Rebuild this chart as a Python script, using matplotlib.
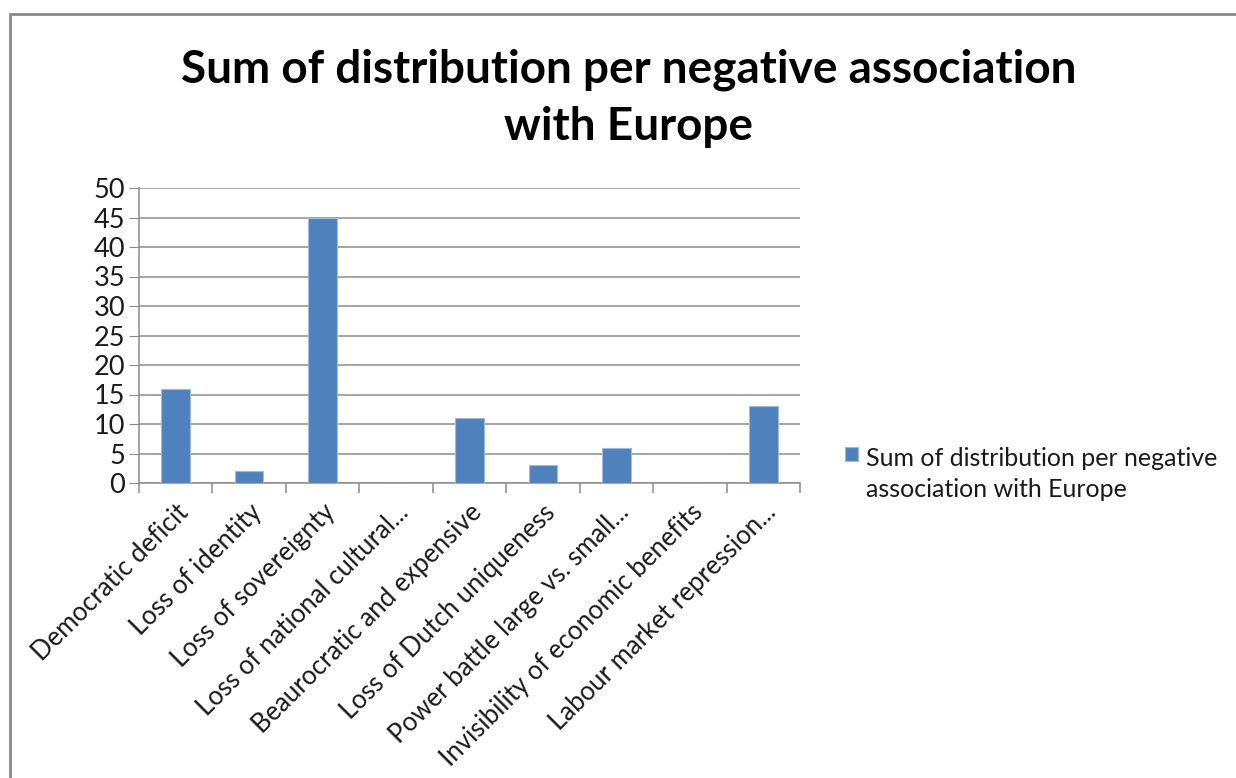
import matplotlib.pyplot as plt
from matplotlib.patches import Rectangle
import numpy as np

categories = [
    'Democratic deficit',
    'Loss of identity',
    'Loss of sovereignty',
    'Loss of national cultural...',
    'Beaurocratic and expensive',
    'Loss of Dutch uniqueness',
    'Power battle large vs. small...',
    'Invisibility of economic benefits',
    'Labour market repression...',
]
values = [16, 2, 45, 0, 11, 3, 6, 0, 13]
series_name = 'Sum of distribution per negative\nassociation with Europe'
title = 'Sum of distribution per negative association\nwith Europe'

plt.rcParams['font.family'] = ['Lato', 'DejaVu Sans']

W, H = 1236, 778
fig = plt.figure(figsize=(W / 100, H / 100), dpi=100)

# chart frame, left and top edges visible
fig.patches.append(Rectangle((10 / W, -0.1), 1.2, 1 - 14 / H + 0.1,
                             transform=fig.transFigure, fill=False,
                             edgecolor='#8a8a8a', linewidth=2))

ax = fig.add_axes([139 / W, 1 - 483 / H, (800 - 139) / W, (483 - 188) / H])
x = np.arange(len(categories))
bars = ax.bar(x, values, width=0.39, color='#4f81bd', edgecolor='#9fbbdc',
              linewidth=0.8, zorder=3, label=series_name)

ax.set_xlim(-0.5, len(categories) - 0.5)
ax.set_ylim(0, 50)
ax.set_yticks(range(0, 51, 5))
ax.yaxis.grid(True, color='#8c8c8c', linewidth=1.1)
ax.set_axisbelow(True)

for s in ['top', 'right']:
    ax.spines[s].set_visible(False)
for s in ['left', 'bottom']:
    ax.spines[s].set_color('#8c8c8c')
    ax.spines[s].set_linewidth(1.1)

ax.tick_params(axis='y', length=7, color='#8c8c8c', labelsize=19.5, pad=3,
               labelcolor='#1a1a1a')
ax.set_xticks(x)
ax.set_xticklabels(categories, rotation=45, ha='right', rotation_mode='anchor',
                   fontsize=18.5, color='#1a1a1a')
ax.tick_params(axis='x', which='major', length=0, pad=12)
ax.set_xticks(np.arange(-0.5, len(categories)), minor=True)
ax.tick_params(axis='x', which='minor', length=7, color='#8c8c8c', width=1.1)

fig.text(629 / W, 1 - 98 / H, title, ha='center', va='center',
         fontsize=33, fontweight='bold', linespacing=1.45)

leg = fig.legend(handles=[bars], labels=[series_name], loc='center left',
                 bbox_to_anchor=(845 / W, 1 - 474 / H), frameon=False,
                 fontsize=18, handlelength=0.5, handleheight=0.5,
                 handletextpad=0.32, borderpad=0, borderaxespad=0,
                 labelcolor='#1a1a1a')
# keep the marker level with the first line of the label
for col in leg._legend_handle_box.get_children():
    for entry in col.get_children():
        entry.align = 'top'
for t in leg.get_texts():
    t.set_linespacing(1.4)

fig.savefig('out.png', dpi=100)
